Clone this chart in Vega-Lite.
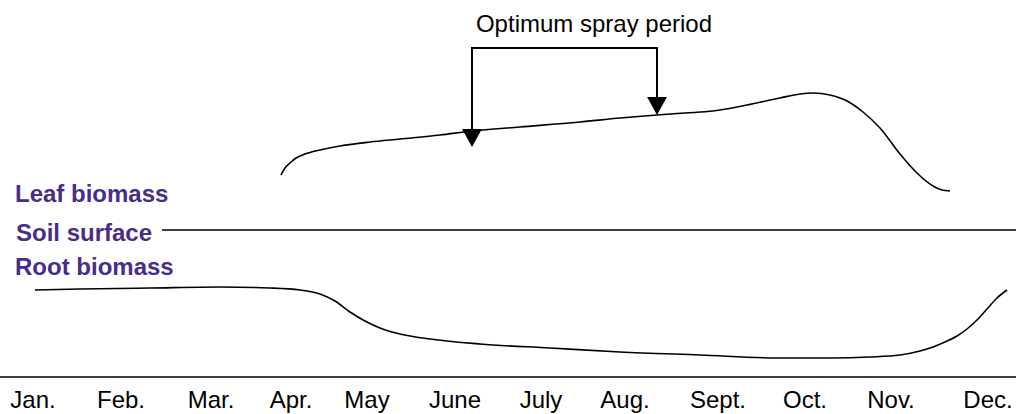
{
  "$schema": "https://vega.github.io/schema/vega-lite/v6.json",
  "width": 1016,
  "height": 414,
  "padding": 0,
  "autosize": {"type": "none"},
  "background": "white",
  "config": {"view": {"stroke": null}},
  "layer": [
    {
      "data": {"values": [
        {"s":"leaf","x":281,"y":175},{"s":"leaf","x":285,"y":168},{"s":"leaf","x":290,"y":163},{"s":"leaf","x":296,"y":158},{"s":"leaf","x":305,"y":154},{"s":"leaf","x":320,"y":150},{"s":"leaf","x":340,"y":146},{"s":"leaf","x":370,"y":142},{"s":"leaf","x":400,"y":139},{"s":"leaf","x":440,"y":135},{"s":"leaf","x":472,"y":131},{"s":"leaf","x":520,"y":127},{"s":"leaf","x":580,"y":122},{"s":"leaf","x":620,"y":118},{"s":"leaf","x":657,"y":115},{"s":"leaf","x":685,"y":113},{"s":"leaf","x":713,"y":111},{"s":"leaf","x":747,"y":105},{"s":"leaf","x":780,"y":98},{"s":"leaf","x":800,"y":94},{"s":"leaf","x":813,"y":93},{"s":"leaf","x":830,"y":95},{"s":"leaf","x":847,"y":101},{"s":"leaf","x":863,"y":112},{"s":"leaf","x":880,"y":128},{"s":"leaf","x":900,"y":154},{"s":"leaf","x":917,"y":173},{"s":"leaf","x":933,"y":186},{"s":"leaf","x":942,"y":190},{"s":"leaf","x":950,"y":191},
        {"s":"root","x":35,"y":290},{"s":"root","x":80,"y":289},{"s":"root","x":150,"y":288},{"s":"root","x":220,"y":287},{"s":"root","x":270,"y":288},{"s":"root","x":300,"y":290},{"s":"root","x":320,"y":294},{"s":"root","x":335,"y":301},{"s":"root","x":350,"y":312},{"s":"root","x":365,"y":321},{"s":"root","x":380,"y":328},{"s":"root","x":400,"y":334},{"s":"root","x":430,"y":339},{"s":"root","x":480,"y":344},{"s":"root","x":550,"y":348},{"s":"root","x":620,"y":352},{"s":"root","x":700,"y":355},{"s":"root","x":780,"y":358},{"s":"root","x":830,"y":358},{"s":"root","x":870,"y":357},{"s":"root","x":900,"y":355},{"s":"root","x":920,"y":351},{"s":"root","x":933,"y":347},{"s":"root","x":945,"y":342},{"s":"root","x":957,"y":336},{"s":"root","x":967,"y":329},{"s":"root","x":977,"y":320},{"s":"root","x":987,"y":309},{"s":"root","x":997,"y":298},{"s":"root","x":1007,"y":290}
      ]},
      "mark": {"type": "line", "interpolate": "monotone", "stroke": "black", "strokeWidth": 1.6},
      "encoding": {
        "x": {"field": "x", "type": "quantitative", "scale": {"domain": [0, 1016], "nice": false, "zero": false}, "axis": null},
        "y": {"field": "y", "type": "quantitative", "scale": {"domain": [0, 414], "nice": false, "zero": false, "reverse": true}, "axis": null},
        "detail": {"field": "s"}
      }
    },
    {
      "data": {"values": [
        {"x":162,"x2":1016,"y":230,"y2":230,"w":1.6},
        {"x":0,"x2":1016,"y":377,"y2":377,"w":1.6},
        {"x":472,"x2":472,"y":48,"y2":138,"w":2},
        {"x":471,"x2":658,"y":48,"y2":48,"w":2},
        {"x":657,"x2":657,"y":48,"y2":106,"w":2}
      ]},
      "mark": {"type": "rule", "stroke": "black"},
      "encoding": {
        "x": {"field": "x", "type": "quantitative", "scale": {"domain": [0, 1016], "nice": false, "zero": false}, "axis": null},
        "x2": {"field": "x2"},
        "y": {"field": "y", "type": "quantitative", "scale": {"domain": [0, 414], "nice": false, "zero": false, "reverse": true}, "axis": null},
        "y2": {"field": "y2"},
        "strokeWidth": {"field": "w", "type": "quantitative", "scale": null}
      }
    },
    {
      "data": {"values": [
        {"x":472,"y":147},
        {"x":657,"y":115}
      ]},
      "mark": {"type": "point", "shape": "M-0.55,-1L0.55,-1L0,0Z", "filled": true, "fill": "black", "stroke": null, "opacity": 1, "size": 1300},
      "encoding": {
        "x": {"field": "x", "type": "quantitative", "scale": {"domain": [0, 1016], "nice": false, "zero": false}, "axis": null},
        "y": {"field": "y", "type": "quantitative", "scale": {"domain": [0, 414], "nice": false, "zero": false, "reverse": true}, "axis": null}
      }
    },
    {
      "data": {"values": [
        {"t":"Leaf biomass","x":15,"y":202},
        {"t":"Soil surface","x":16,"y":241},
        {"t":"Root biomass","x":15,"y":275}
      ]},
      "mark": {"type": "text", "align": "left", "baseline": "alphabetic", "font": "Liberation Sans", "fontWeight": "bold", "fontSize": 24, "fill": "#4a2c89"},
      "encoding": {
        "x": {"field": "x", "type": "quantitative", "scale": {"domain": [0, 1016], "nice": false, "zero": false}, "axis": null},
        "y": {"field": "y", "type": "quantitative", "scale": {"domain": [0, 414], "nice": false, "zero": false, "reverse": true}, "axis": null},
        "text": {"field": "t"}
      }
    },
    {
      "data": {"values": [
        {"t":"Optimum spray period","x":594,"y":32},
        {"t":"Jan.","x":33,"y":408},
        {"t":"Feb.","x":121,"y":408},
        {"t":"Mar.","x":211,"y":408},
        {"t":"Apr.","x":291,"y":408},
        {"t":"May","x":367,"y":408},
        {"t":"June","x":455,"y":408},
        {"t":"July","x":541,"y":408},
        {"t":"Aug.","x":625,"y":408},
        {"t":"Sept.","x":718,"y":408},
        {"t":"Oct.","x":805,"y":408},
        {"t":"Nov.","x":891,"y":408},
        {"t":"Dec.","x":988,"y":408}
      ]},
      "mark": {"type": "text", "align": "center", "baseline": "alphabetic", "font": "Liberation Sans", "fontSize": 24, "fill": "black"},
      "encoding": {
        "x": {"field": "x", "type": "quantitative", "scale": {"domain": [0, 1016], "nice": false, "zero": false}, "axis": null},
        "y": {"field": "y", "type": "quantitative", "scale": {"domain": [0, 414], "nice": false, "zero": false, "reverse": true}, "axis": null},
        "text": {"field": "t"}
      }
    }
  ]
}
